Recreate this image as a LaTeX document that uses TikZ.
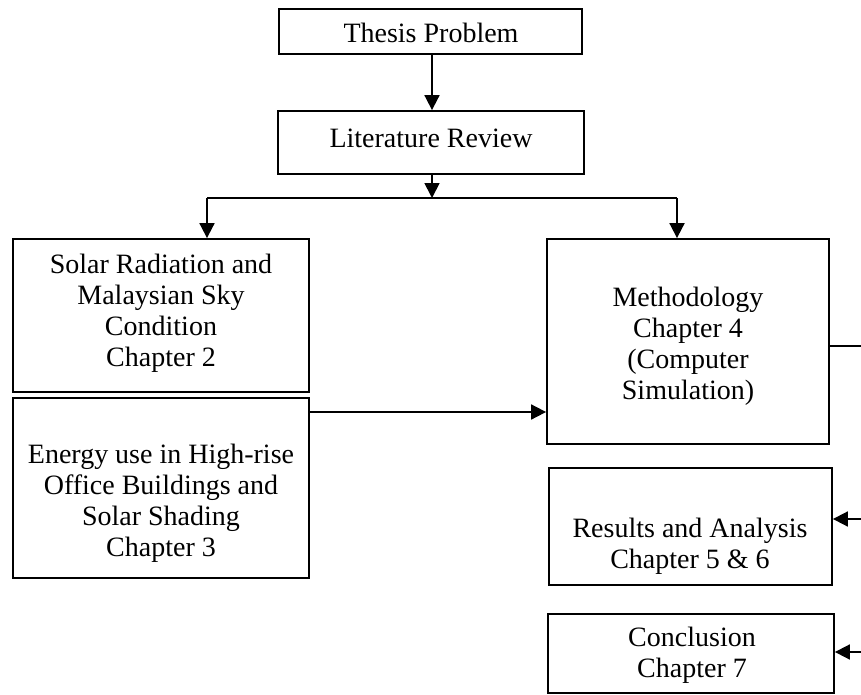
\documentclass[tikz,border=0pt]{standalone}
\usepackage{fontspec}
\setmainfont{Liberation Serif}
\usetikzlibrary{arrows.meta,fit}
\begin{document}
\begin{tikzpicture}[x=1pt,y=-1pt,
  box/.style={draw,line width=1.8pt,inner sep=0pt},
  lbl/.style={align=center,font=\fontsize{28}{31}\selectfont,inner sep=0pt},
  conn/.style={line width=1.8pt},
  arr/.style={conn,-{Triangle[length=15pt,width=15pt]}}]
\useasboundingbox (0,0) rectangle (861,695);
% boxes
\node[box,fit={(279,9) (582,54)}] (thesis) {};
\node[box,fit={(278,111) (584,174)}] (lit) {};
\node[box,fit={(13,239) (309,392)}] (solar) {};
\node[box,fit={(13,398) (309,578)}] (energy) {};
\node[box,fit={(547,239) (829,444)}] (method) {};
\node[box,fit={(549,468) (832,585)}] (results) {};
\node[box,fit={(548,614) (834,693)}] (concl) {};
% texts
\node[lbl] (thesisT) at (431,33) {Thesis Problem};
\node[lbl] (litT) at (431,138) {Literature Review};
\node[lbl] (solarT) at (161,313) {Solar Radiation and\\Malaysian Sky\\Condition\\Chapter 2};
\node[lbl] (energyT) at (161,503) {Energy use in High-rise\\Office Buildings and\\Solar Shading\\Chapter 3};
\node[lbl] (methodT) at (688,346) {Methodology\\Chapter 4\\(Computer\\Simulation)};
\node[lbl] (resultsT) at (690,546) {Results and Analysis\\Chapter 5 \& 6};
\node[lbl] (conclT) at (692,655) {Conclusion\\Chapter 7};
% helper coordinates
\coordinate (j) at (432,198);
\coordinate (jl) at (207,198);
\coordinate (jr) at (677,198);
\coordinate (ey) at (0,412);
\coordinate (m1) at (861,346);
\coordinate (r1) at (861,519);
\coordinate (c1) at (861,652);
% connectors
\draw[arr] (thesis.south -| j) -- (lit.north -| j);
\draw[arr] (lit.south -| j) -- (j);
\draw[conn] (jl) -- (jr);
\draw[arr] (jl) -- (jl |- solar.north);
\draw[arr] (jr) -- (jr |- method.north);
\draw[arr] (energy.east |- ey) -- (method.west |- ey);
\draw[conn] (method.east |- m1) -- (m1);
\draw[arr] (r1) -- (results.east |- r1);
\draw[arr] (c1) -- (concl.east |- c1);
\end{tikzpicture}
\end{document}
